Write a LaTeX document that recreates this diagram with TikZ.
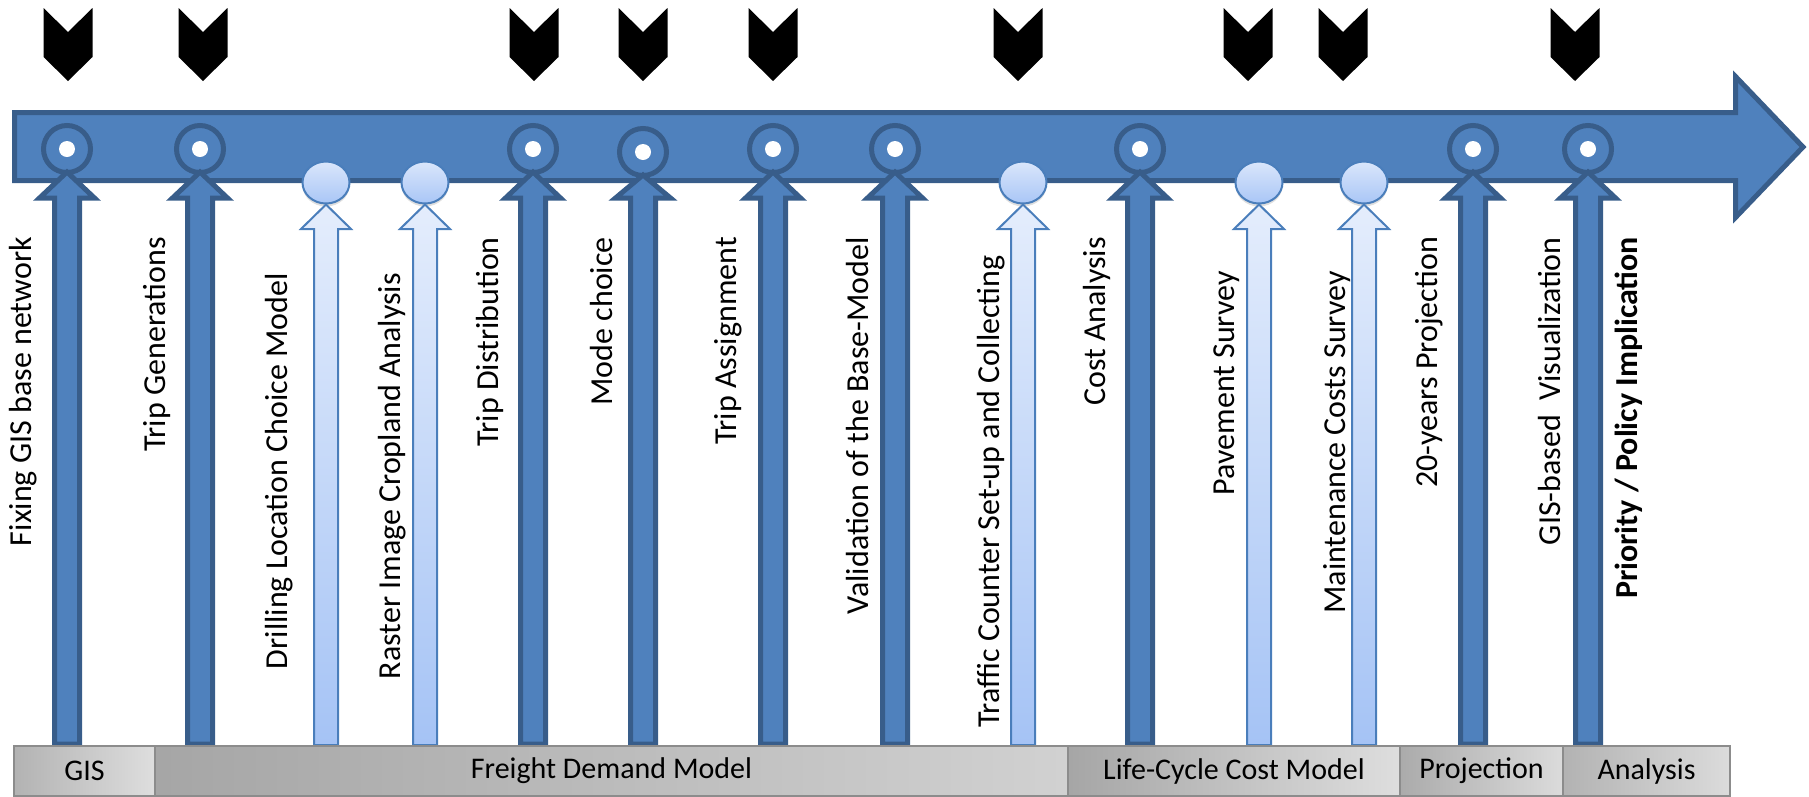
\documentclass[tikz,border=0pt]{standalone}
\usepackage{fontspec}
\setmainfont{Carlito}
\usetikzlibrary{shadows,shapes.geometric}
\definecolor{bandfill}{HTML}{4F81BD}
\definecolor{bandline}{HTML}{385D8A}
\definecolor{lightline}{HTML}{4A7EBB}
\definecolor{lighttop}{HTML}{E4EDFC}
\definecolor{lightbot}{HTML}{A5C3F5}
\definecolor{elltop}{HTML}{DAE6FB}
\definecolor{ellbot}{HTML}{A9C6F6}
\definecolor{barline}{HTML}{8C8C8C}
\tikzset{
  band/.style={fill=bandfill, draw=bandline, line width=5pt, line join=miter},
  ring/.style={circle, minimum size=47pt, inner sep=0pt, fill=bandfill, draw=bandline, line width=5pt},
  dot/.style={circle, minimum size=16pt, inner sep=0pt, fill=white},
  darkarrow/.style={fill=bandfill, draw=bandline, line width=5pt, line join=miter},
  lightarrow/.style={top color=lighttop, bottom color=lightbot, draw=lightline, line width=2pt, line join=miter},
  bubble/.style={ellipse, minimum width=47pt, minimum height=42pt, inner sep=0pt, top color=elltop, bottom color=ellbot, draw=lightline, line width=2pt, drop shadow={shadow xshift=0pt, shadow yshift=-3pt, opacity=0.25}},
  chev/.style={fill=black},
  lbl/.style={rotate=90, anchor=south east, inner sep=0pt, font=\fontsize{32}{36}\selectfont},
  barbox/.style={draw=barline, line width=1.5pt},
  bartext/.style={inner sep=0pt, font=\fontsize{30}{34}\selectfont}
}
\begin{document}
\begin{tikzpicture}[x=1pt, y=-1pt]
\useasboundingbox (0,0) rectangle (1809,796);
% chevrons
\foreach \c [count=\i] in {68,203,534,643,773,1018,1248,1343,1575}{
  \fill[chev] ({\c-24.5},8) -- (\c,32) -- ({\c+24.5},8) -- ({\c+24.5},57) -- (\c,81) -- ({\c-24.5},57) -- cycle;
}
% main timeline arrow
\draw[band] (14.5,112.5) -- (1735.5,112.5) -- (1735.5,76.5) -- (1803,147) -- (1735.5,217.5) -- (1735.5,180.5) -- (14.5,180.5) -- cycle;
% dark rings
\foreach \c/\yy [count=\i] in {67/149,200/149,533/149,643/152,773/149,895/149,1140/149,1473/149,1588/149}{
  \node[ring] (r\i) at (\c,\yy) {};
  \node[dot] (d\i) at (r\i.center) {};
  \draw[darkarrow] ({\c-12.5},744) -- ({\c-12.5},198) -- ({\c-27.5},198) -- (\c,{\yy+23}) -- ({\c+27.5},198) -- ({\c+12.5},198) -- ({\c+12.5},744) -- cycle;
}
% light bubbles and arrows
\foreach \c [count=\i] in {326,425,1023,1259,1364}{
  \node[bubble] (b\i) at (\c,182.5) {};
  \draw[lightarrow] ({\c-12},745) -- ({\c-12},229) -- ({\c-25},229) -- (\c,204.5) -- ({\c+25},229) -- ({\c+12},229) -- ({\c+12},745) -- cycle;
}
% labels
\node[lbl] (l1) at (37,237) {Fixing GIS base network};
\node[lbl] (l2) at (171,237) {Trip Generations};
\node[lbl] (l3) at (293,273) {Drilling Location Choice Model};
\node[lbl] (l4) at (406,273) {Raster Image Cropland Analysis};
\node[lbl] (l5) at (504,237) {Trip Distribution};
\node[lbl] (l6) at (613,237) {Mode choice};
\node[lbl] (l7) at (742,237) {Trip Assignment};
\node[lbl] (l8) at (869,237) {Validation of the Base-Model};
\node[lbl] (l9) at (1005,255) {Traffic Counter Set-up and Collecting};
\node[lbl] (l10) at (1111,237) {Cost Analysis};
\node[lbl] (l11) at (1240,271) {Pavement Survey};
\node[lbl] (l12) at (1351,271) {Maintenance Costs Survey};
\node[lbl] (l13) at (1443,237) {20-years Projection};
\node[lbl] (l14) at (1561,237) {GIS-based\ \ Visualization};
\node[lbl, font=\fontsize{32}{36}\selectfont\bfseries] (l15) at (1643,237) {Priority / Policy Implication};
% bottom bar
\shade[left color=black!30, right color=black!13] (14,746) rectangle (155,796);
\draw[barbox] (14,746) rectangle (155,796);
\shade[left color=black!35, right color=black!18] (155,746) rectangle (1068,796);
\draw[barbox] (155,746) rectangle (1068,796);
\shade[left color=black!35, right color=black!13] (1068,746) rectangle (1400,796);
\draw[barbox] (1068,746) rectangle (1400,796);
\shade[left color=black!33, right color=black!14] (1400,746) rectangle (1563,796);
\draw[barbox] (1400,746) rectangle (1563,796);
\shade[left color=black!30, right color=black!14] (1563,746) rectangle (1730,796);
\draw[barbox] (1563,746) rectangle (1730,796);
\node[bartext] (s1) at (84.5,771) {GIS};
\node[bartext] (s2) at (611.5,771) {Freight Demand Model};
\node[bartext] (s3) at (1234,771) {Life-Cycle Cost Model};
\node[bartext] (s4) at (1481.5,771) {Projection};
\node[bartext] (s5) at (1646.5,771) {Analysis};
\end{tikzpicture}
\end{document}
